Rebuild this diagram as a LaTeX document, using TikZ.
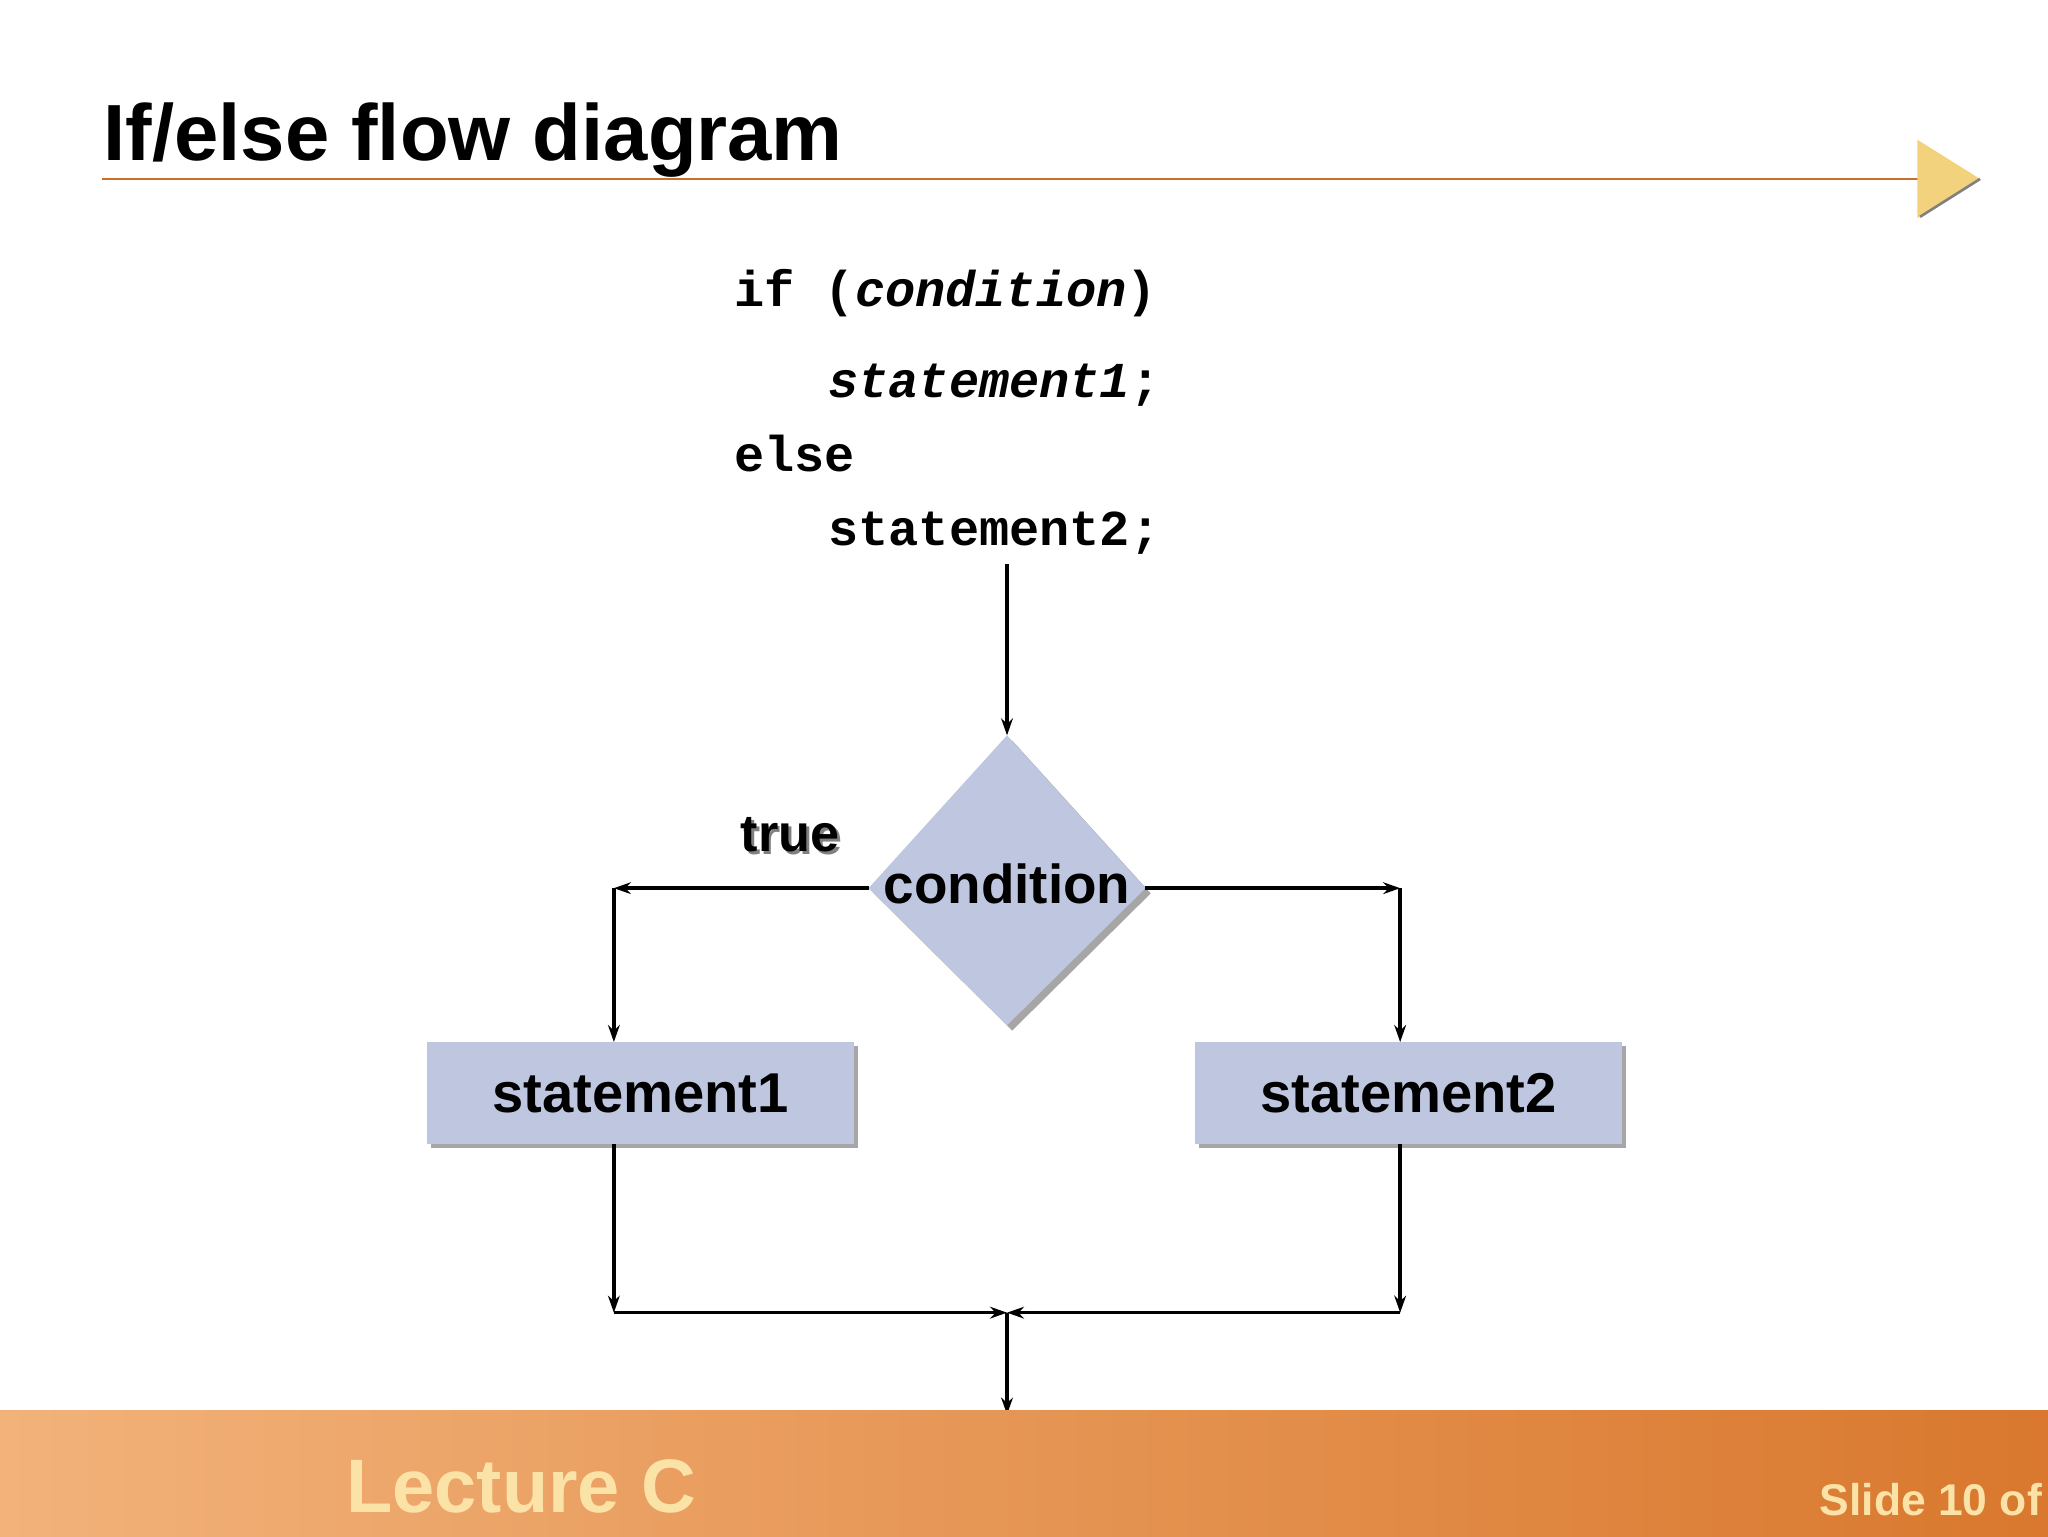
\documentclass[tikz,border=0pt]{standalone}
\usepackage{fontspec}
\setmainfont{Liberation Sans}
\setmonofont{Liberation Mono}
\usetikzlibrary{arrows.meta,shapes.geometric}
\definecolor{boxfill}{HTML}{BFC6E0}
\definecolor{titleline}{HTML}{C8702A}
\definecolor{tri}{HTML}{F3D27E}
\definecolor{bandA}{HTML}{F2B27A}
\definecolor{bandB}{HTML}{D9782E}
\definecolor{lect}{HTML}{FBE3A8}
\tikzset{
  arr/.style={-{Stealth[length=13pt,width=9pt]},line width=2.6pt},
  stmt/.style={fill=boxfill,minimum width=327pt,minimum height=78pt,inner sep=0pt,font=\fontsize{43}{43}\selectfont\bfseries},
  code/.style={anchor=base west,font=\fontsize{38.5}{38.5}\selectfont\ttfamily\bfseries,inner sep=0pt},
}
\begin{document}
\begin{tikzpicture}[x=1pt,y=-1pt]
\useasboundingbox (0,0) rectangle (1568,1176);
\fill[white] (0,0) rectangle (1568,1176);
% title
\node[anchor=base west,inner sep=0pt,font=\fontsize{61}{61}\selectfont\bfseries] (title) at (79,123) {If/else flow diagram};
\draw[titleline,line width=2pt] (78,137) -- (1470,137);
\fill[tri] (1468,107) -- (1516,137) -- (1468,167) -- cycle;
\draw[gray,line width=2pt] (1516,137) -- (1470,166);
% code
\node[code] (c1) at (562,235) {if (\textit{condition})};
\node[code] (c2) at (634,304) {\textit{statement1};};
\node[code] (c3) at (562,361) {else};
\node[code] (c4) at (634,418) {statement2;};
% diamond
\fill[gray!70] (775,567) -- (881,684) -- (775,789) -- (669,684) -- cycle;
\fill[boxfill] (771,563) -- (877,680) -- (771,785) -- (665,680) -- cycle;
\coordinate (dtop) at (771,563);
\coordinate (dleft) at (665,680);
\coordinate (dright) at (877,680);
\node[font=\fontsize{42}{42}\selectfont\bfseries] (cond) at (771,677) {condition};
\node[font=\fontsize{40}{40}\selectfont\bfseries,text=gray] at (607,641) {true};
\node[font=\fontsize{40}{40}\selectfont\bfseries] (true) at (605,639) {true};
% boxes
\fill[gray!70] (330,801) rectangle (657,879);
\fill[gray!70] (918,801) rectangle (1245,879);
\node[stmt] (s1) at (490.5,837) {statement1};
\node[stmt] (s2) at (1078.5,837) {statement2};
\coordinate (top) at (771,432);
\coordinate (lc) at (470,680);
\coordinate (rc) at (1072,680);
\coordinate (lb) at (470,1005);
\coordinate (rb) at (1072,1005);
\coordinate (mid) at (771,1005);
\coordinate (out) at (771,1083);
\draw[arr] (top) -- (dtop);
\draw[arr] (dleft) -- (lc);
\draw[arr] (lc) -- (lc |- s1.north);
\draw[arr] (dright) -- (rc);
\draw[arr] (rc) -- (rc |- s2.north);
\draw[arr] (s1.south -| lb) -- (lb);
\draw[arr] (lb) -- (mid);
\draw[arr] (s2.south -| rb) -- (rb);
\draw[arr] (rb) -- (mid);
\draw[arr] (mid) -- (out);
% bottom band
\shade[left color=bandA,right color=bandB] (0,1080) rectangle (1568,1176);
\node[anchor=base west,inner sep=0pt,text=lect,font=\fontsize{58}{58}\selectfont\bfseries] (lec) at (265,1158) {Lecture C};
\node[anchor=base west,inner sep=0pt,text=lect,font=\fontsize{34}{34}\selectfont\bfseries] (slide) at (1393,1160) {Slide 10 of};
\end{tikzpicture}
\end{document}
